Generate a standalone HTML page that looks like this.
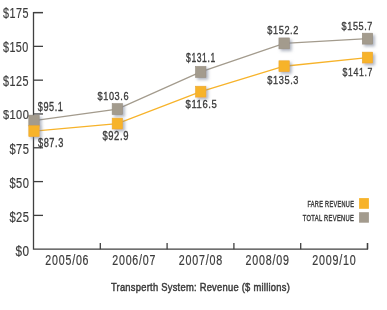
<!DOCTYPE html>
<html><head><meta charset="utf-8"><style>
html,body{margin:0;padding:0;background:#fff;width:387px;height:310px;overflow:hidden}
svg{display:block;font-family:"Liberation Sans", sans-serif}
</style></head><body>
<svg width="387" height="310" viewBox="0 0 387 310">
<defs>
<filter id="sh" x="-50%" y="-50%" width="200%" height="200%">
<feGaussianBlur in="SourceAlpha" stdDeviation="1.8"/>
<feOffset dx="2" dy="2" result="b"/>
<feFlood flood-color="#7a8498" flood-opacity="0.6"/>
<feComposite in2="b" operator="in"/>
<feMerge><feMergeNode/><feMergeNode in="SourceGraphic"/></feMerge>
</filter>
</defs>
<rect width="387" height="310" fill="#fff"/>
<g stroke="#404040" stroke-width="1.3" fill="none">
<polyline points="43,12.55 33.5,12.55 33.5,249.2 367.5,249.2 367.5,243"/>
<line x1="33.5" y1="215.39" x2="43" y2="215.39"/><line x1="33.5" y1="181.59" x2="43" y2="181.59"/><line x1="33.5" y1="147.78" x2="43" y2="147.78"/><line x1="33.5" y1="113.97" x2="43" y2="113.97"/><line x1="33.5" y1="80.16" x2="43" y2="80.16"/><line x1="33.5" y1="46.36" x2="43" y2="46.36"/><line x1="33.5" y1="12.55" x2="43" y2="12.55"/><line x1="100.30" y1="243" x2="100.30" y2="249.2"/><line x1="167.10" y1="243" x2="167.10" y2="249.2"/><line x1="233.90" y1="243" x2="233.90" y2="249.2"/><line x1="300.70" y1="243" x2="300.70" y2="249.2"/><line x1="367.50" y1="243" x2="367.50" y2="249.2"/>
</g>
<polyline points="34.00,120.60 117.38,109.10 200.75,71.92 284.12,43.38 367.50,38.65" fill="none" stroke="#a39b8d" stroke-width="1.3"/>
<polyline points="34.00,131.15 117.38,123.57 200.75,91.66 284.12,66.24 367.50,57.58" fill="none" stroke="#f7b32a" stroke-width="1.3"/>
<rect x="28.80" y="115.15" width="10.4" height="10.9" fill="#a39b8d" stroke="#978e80" stroke-width="0.6" filter="url(#sh)"/><rect x="112.17" y="103.65" width="10.4" height="10.9" fill="#a39b8d" stroke="#978e80" stroke-width="0.6" filter="url(#sh)"/><rect x="195.55" y="66.47" width="10.4" height="10.9" fill="#a39b8d" stroke="#978e80" stroke-width="0.6" filter="url(#sh)"/><rect x="278.93" y="37.93" width="10.4" height="10.9" fill="#a39b8d" stroke="#978e80" stroke-width="0.6" filter="url(#sh)"/><rect x="362.30" y="33.20" width="10.4" height="10.9" fill="#a39b8d" stroke="#978e80" stroke-width="0.6" filter="url(#sh)"/>
<rect x="28.80" y="125.70" width="10.4" height="10.9" fill="#f7b32a" stroke="#eda82a" stroke-width="0.6" filter="url(#sh)"/><rect x="112.17" y="118.12" width="10.4" height="10.9" fill="#f7b32a" stroke="#eda82a" stroke-width="0.6" filter="url(#sh)"/><rect x="195.55" y="86.21" width="10.4" height="10.9" fill="#f7b32a" stroke="#eda82a" stroke-width="0.6" filter="url(#sh)"/><rect x="278.93" y="60.79" width="10.4" height="10.9" fill="#f7b32a" stroke="#eda82a" stroke-width="0.6" filter="url(#sh)"/><rect x="362.30" y="52.13" width="10.4" height="10.9" fill="#f7b32a" stroke="#eda82a" stroke-width="0.6" filter="url(#sh)"/>
<rect x="359.1" y="198.1" width="9.8" height="10.7" fill="#f7b32a"/>
<rect x="359.1" y="212.2" width="9.8" height="10.5" fill="#a39b8d"/>
<g font-family="Liberation Sans, sans-serif" style="opacity:0.995">
<text transform="translate(2.89,17.50) scale(0.7563,1)" font-size="14.29" font-weight="normal" fill="#3a3a3a" stroke="#3a3a3a" stroke-width="0.2" letter-spacing="0.661">$175</text>
<text transform="translate(2.89,51.80) scale(0.7700,1)" font-size="14.00" font-weight="normal" fill="#3a3a3a" stroke="#3a3a3a" stroke-width="0.2" letter-spacing="0.649">$150</text>
<text transform="translate(2.89,85.80) scale(0.7718,1)" font-size="14.00" font-weight="normal" fill="#3a3a3a" stroke="#3a3a3a" stroke-width="0.2" letter-spacing="0.648">$125</text>
<text transform="translate(2.89,119.00) scale(0.8112,1)" font-size="13.57" font-weight="normal" fill="#3a3a3a" stroke="#3a3a3a" stroke-width="0.2" letter-spacing="0.616">$100</text>
<text transform="translate(9.39,153.80) scale(0.7961,1)" font-size="14.00" font-weight="normal" fill="#3a3a3a" stroke="#3a3a3a" stroke-width="0.2" letter-spacing="0.628">$75</text>
<text transform="translate(9.39,187.80) scale(0.7937,1)" font-size="14.00" font-weight="normal" fill="#3a3a3a" stroke="#3a3a3a" stroke-width="0.2" letter-spacing="0.630">$50</text>
<text transform="translate(9.39,221.80) scale(0.7961,1)" font-size="14.00" font-weight="normal" fill="#3a3a3a" stroke="#3a3a3a" stroke-width="0.2" letter-spacing="0.628">$25</text>
<text transform="translate(15.38,256.00) scale(0.8216,1)" font-size="14.29" font-weight="normal" fill="#3a3a3a" stroke="#3a3a3a" stroke-width="0.2" letter-spacing="0.609">$0</text>
<text transform="translate(45.37,265.00) scale(0.7427,1)" font-size="14.29" font-weight="normal" fill="#3a3a3a" stroke="#3a3a3a" stroke-width="0.22" letter-spacing="1.077">2005/06</text>
<text transform="translate(112.27,265.00) scale(0.7428,1)" font-size="14.29" font-weight="normal" fill="#3a3a3a" stroke="#3a3a3a" stroke-width="0.22" letter-spacing="1.077">2006/07</text>
<text transform="translate(178.87,265.00) scale(0.7487,1)" font-size="14.29" font-weight="normal" fill="#3a3a3a" stroke="#3a3a3a" stroke-width="0.22" letter-spacing="1.069">2007/08</text>
<text transform="translate(245.57,265.00) scale(0.7457,1)" font-size="14.29" font-weight="normal" fill="#3a3a3a" stroke="#3a3a3a" stroke-width="0.22" letter-spacing="1.073">2008/09</text>
<text transform="translate(312.26,265.00) scale(0.7496,1)" font-size="14.29" font-weight="normal" fill="#3a3a3a" stroke="#3a3a3a" stroke-width="0.22" letter-spacing="1.067">2009/10</text>
<text transform="translate(37.71,110.80) scale(0.7255,1)" font-size="12.57" font-weight="normal" fill="#3a3a3a" stroke="#3a3a3a" stroke-width="0.35" letter-spacing="0.827">$95.1</text>
<text transform="translate(37.91,146.60) scale(0.7508,1)" font-size="12.29" font-weight="normal" fill="#3a3a3a" stroke="#3a3a3a" stroke-width="0.35" letter-spacing="0.799">$87.3</text>
<text transform="translate(97.51,99.60) scale(0.7828,1)" font-size="11.71" font-weight="normal" fill="#3a3a3a" stroke="#3a3a3a" stroke-width="0.35" letter-spacing="0.767">$103.6</text>
<text transform="translate(102.41,140.20) scale(0.7968,1)" font-size="11.86" font-weight="normal" fill="#3a3a3a" stroke="#3a3a3a" stroke-width="0.35" letter-spacing="0.753">$92.9</text>
<text transform="translate(186.01,61.70) scale(0.7155,1)" font-size="12.00" font-weight="normal" fill="#3a3a3a" stroke="#3a3a3a" stroke-width="0.35" letter-spacing="0.839">$131.1</text>
<text transform="translate(185.61,107.60) scale(0.8086,1)" font-size="11.71" font-weight="normal" fill="#3a3a3a" stroke="#3a3a3a" stroke-width="0.35" letter-spacing="0.742">$116.5</text>
<text transform="translate(267.31,33.60) scale(0.7825,1)" font-size="11.71" font-weight="normal" fill="#3a3a3a" stroke="#3a3a3a" stroke-width="0.35" letter-spacing="0.767">$152.2</text>
<text transform="translate(267.31,83.60) scale(0.7856,1)" font-size="11.71" font-weight="normal" fill="#3a3a3a" stroke="#3a3a3a" stroke-width="0.35" letter-spacing="0.764">$135.3</text>
<text transform="translate(341.61,29.50) scale(0.7864,1)" font-size="11.57" font-weight="normal" fill="#3a3a3a" stroke="#3a3a3a" stroke-width="0.35" letter-spacing="0.763">$155.7</text>
<text transform="translate(342.61,75.60) scale(0.7484,1)" font-size="11.71" font-weight="normal" fill="#3a3a3a" stroke="#3a3a3a" stroke-width="0.35" letter-spacing="0.802">$141.7</text>
<text transform="translate(110.91,291.20) scale(0.7916,1)" font-size="11.85" font-weight="normal" fill="#3a3a3a" stroke="#3a3a3a" stroke-width="0.5" letter-spacing="0.316">Transperth System: Revenue ($ millions)</text>
<text transform="translate(307.45,206.60) scale(0.6205,1)" font-size="9.01" font-weight="normal" fill="#3a3a3a" stroke="#3a3a3a" stroke-width="0.45" letter-spacing="0.483">FARE REVENUE</text>
<text transform="translate(302.78,220.50) scale(0.6328,1)" font-size="9.16" font-weight="normal" fill="#3a3a3a" stroke="#3a3a3a" stroke-width="0.45" letter-spacing="0.474">TOTAL REVENUE</text>
</g>
</svg>
</body></html>
